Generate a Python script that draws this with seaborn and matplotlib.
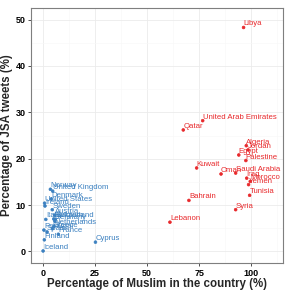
import matplotlib
matplotlib.use("Agg")
import matplotlib.pyplot as plt
import seaborn as sns
import pandas as pd
from matplotlib.ticker import MultipleLocator

# Arab / Muslim-majority countries
arab_countries = ["Libya", "United Arab Emirates", "Qatar", "Algeria", "Jordan", "Egypt",
                  "Palestine", "Kuwait", "Oman", "Saudi Arabia", "Iraq", "Morocco",
                  "Yemen", "Tunisia", "Bahrain", "Syria", "Lebanon"]
arab_muslim = [96.3, 76.7, 67.4, 97.6, 98.5, 94.0, 97.4, 73.8, 85.5, 92.5, 97.8, 99.5,
               98.7, 99.2, 70.1, 92.5, 61.0]
arab_jsa = [48.3, 28.2, 26.2, 22.8, 21.9, 20.8, 19.6, 18.0, 16.7, 16.9, 15.8, 15.1,
            14.4, 12.1, 11.0, 9.0, 6.3]

# Western countries
west_countries = ["Norway", "United Kingdom", "Denmark", "United States", "Ireland", "Sweden",
                  "Austria", "Italy", "Switzerland", "Belgium", "Germany", "Netherlands",
                  "Portugal", "Greece", "Spain", "France", "Finland", "Iceland", "Cyprus"]
west_muslim = [3.7, 4.8, 4.1, 0.9, 1.1, 4.6, 5.7, 1.5, 5.3, 6.0, 5.8, 5.5,
               0.6, 4.7, 2.1, 7.5, 0.8, 0.2, 25.3]
west_jsa = [13.4, 13.0, 11.3, 10.4, 9.8, 9.0, 7.8, 6.9, 7.0, 6.9, 6.5, 5.4,
            4.6, 4.9, 4.2, 3.7, 2.5, 0.1, 2.0]

groups = ["Arab", "West"]
colors = {"Arab": "#E8282B", "West": "#3B80C0"}

df = pd.DataFrame({
    "country": arab_countries + west_countries,
    "muslim": arab_muslim + west_muslim,
    "jsa": arab_jsa + west_jsa,
    "group": [groups[0]] * len(arab_countries) + [groups[1]] * len(west_countries),
})

sns.set_theme(style="whitegrid")
plt.rcParams["font.family"] = ["Liberation Sans", "DejaVu Sans"]

fig = plt.figure(figsize=(2.91, 2.91), dpi=100)
ax = fig.add_axes([31 / 291, 1 - 263 / 291, (283 - 31) / 291, (263 - 8) / 291])

ax.set_facecolor("white")
for sp in ax.spines.values():
    sp.set_visible(True)
    sp.set_color("#7F7F7F")
    sp.set_linewidth(0.8)

ax.xaxis.set_major_locator(MultipleLocator(25))
ax.xaxis.set_minor_locator(MultipleLocator(12.5))
ax.yaxis.set_major_locator(MultipleLocator(10))
ax.yaxis.set_minor_locator(MultipleLocator(5))
ax.grid(which="major", color="#EBEBEB", linewidth=0.6)
ax.grid(which="minor", color="#F7F7F7", linewidth=0.4)
ax.set_axisbelow(True)

sns.scatterplot(data=df, x="muslim", y="jsa", hue="group", palette=colors,
                ax=ax, legend=False, s=4, marker="o", facecolors="none",
                linewidth=0.5, edgecolor=df["group"].map(colors))

for c, xv, yv, g in zip(df["country"], df["muslim"], df["jsa"], df["group"]):
    ax.text(xv, yv, c, color=colors[g], fontsize=5.6, ha="left", va="bottom")

ax.set_xlim(-5.6, 115.2)
ax.set_ylim(-2.5, 52.5)

ax.tick_params(axis="both", which="major", length=2.5, width=0.6, color="#333333",
               labelsize=6.5, pad=1.5, labelcolor="black", bottom=True, left=True)
ax.tick_params(which="minor", length=0)
for lab in ax.get_xticklabels() + ax.get_yticklabels():
    lab.set_fontweight("bold")

ax.set_xlabel("Percentage of Muslim in the country (%)", fontsize=8.3, fontweight="bold",
              labelpad=0.5)
ax.set_ylabel("Percentage of JSA tweets (%)", fontsize=8.3, fontweight="bold", labelpad=2)

fig.savefig("out.png", dpi=100)
